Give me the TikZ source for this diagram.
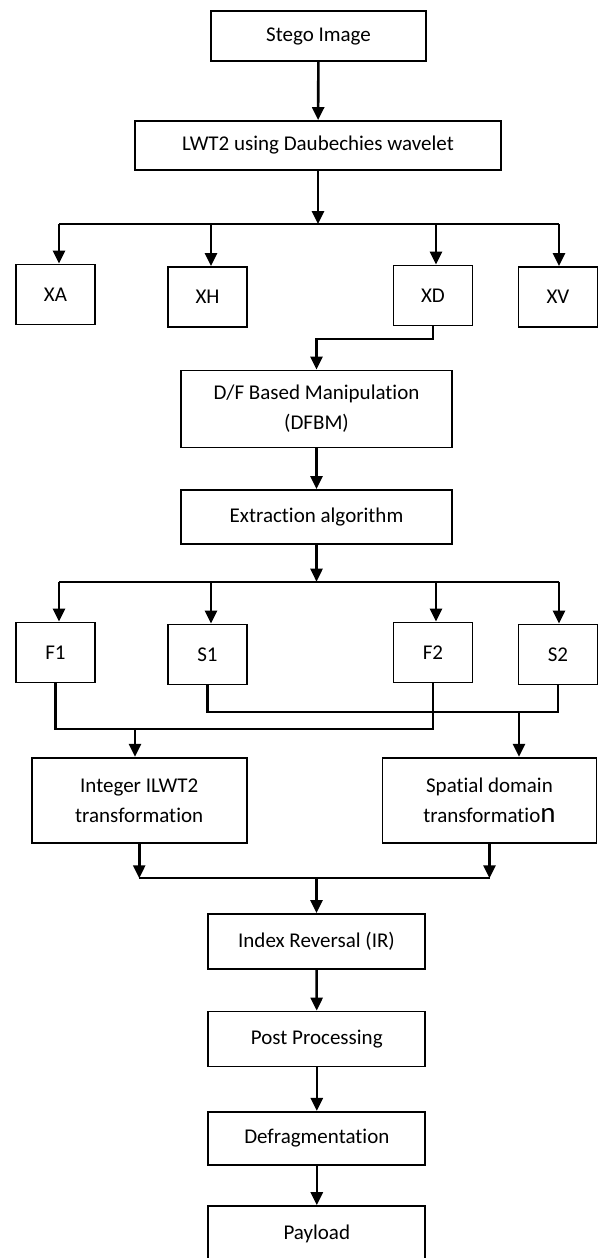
\documentclass[tikz,border=0pt]{standalone}
\usepackage{fontspec}
\setmainfont[Ligatures=NoCommon]{Carlito}
\usepackage{tikz}
\usetikzlibrary{arrows.meta}
\usetikzlibrary{positioning}
\usetikzlibrary{calc}
\tikzstyle{block}=[draw,line width=1.8pt,inner sep=0pt,align=center,font=\fontsize{21}{30}\selectfont]
\tikzstyle{leaf}=[block,minimum width=79pt,minimum height=60pt]
\tikzstyle{stage}=[block,minimum width=217pt,minimum height=55pt]
\tikzstyle{flow}=[line width=2.6pt,-{Triangle[width=12pt,length=13pt]}]
\tikzstyle{link}=[line width=2.2pt]

\begin{document}
\begin{tikzpicture}[x=1pt,y=-1pt]
\useasboundingbox (0,0) rectangle (597,1258);

\node [block,minimum width=215pt,minimum height=50pt] (stego) at (318.5,36) {Stego Image};
\node [block,minimum width=366pt,minimum height=49pt] (lwt) at (318,145.5) {LWT2 using Daubechies wavelet};

% first split
\coordinate (fork1) at (318,224);
\coordinate (fork1a) at (59,224);
\coordinate (fork1b) at (211,224);
\coordinate (fork1c) at (436,224);
\coordinate (fork1d) at (559,224);
\node [leaf] (xa) at (55.5,294.5) {XA};
\node [leaf] (xh) at (207.5,297) {XH};
\node [leaf] (xd) at (433,295.5) {XD};
\node [leaf] (xv) at (558,297) {XV};

\draw [flow] (stego) -- (lwt);
\draw [flow] (lwt) -- (fork1);
\draw [link] (fork1a) -- (fork1d);
\draw [flow] (fork1a) -- (fork1a |- xa.north);
\draw [flow] (fork1b) -- (fork1b |- xh.north);
\draw [flow] (fork1c) -- (fork1c |- xd.north);
\draw [flow] (fork1d) -- (fork1d |- xv.north);

\node [block,minimum width=271pt,minimum height=77pt] (dfbm) at (316.5,409) {D/F Based Manipulation\\(DFBM)};
\node [block,minimum width=271pt,minimum height=54pt] (extract) at (316.5,517) {Extraction algorithm};
\coordinate (bend) at (316.5,339);
\draw [flow] (xd.south) |- (bend) -- (dfbm.north);
\draw [flow] (dfbm) -- (extract);

% second split
\coordinate (fork2) at (316.5,581.7);
\coordinate (fork2a) at (59,581.7);
\coordinate (fork2b) at (211,581.7);
\coordinate (fork2c) at (436,581.7);
\coordinate (fork2d) at (559,581.7);
\node [leaf] (f1) at (55.5,652.5) {F1};
\node [leaf] (s1) at (207.5,654.5) {S1};
\node [leaf] (f2) at (433,652.5) {F2};
\node [leaf] (s2) at (558,654.5) {S2};

\draw [flow] (extract) -- (fork2);
\draw [link] (fork2a) -- (fork2d);
\draw [flow] (fork2a) -- (fork2a |- f1.north);
\draw [flow] (fork2b) -- (fork2b |- s1.north);
\draw [flow] (fork2c) -- (fork2c |- f2.north);
\draw [flow] (fork2d) -- (fork2d |- s2.north);

\node [block,minimum width=215pt,minimum height=85pt] (ilwt) at (139.2,800.3) {Integer ILWT2\\transformation};
\node [block,minimum width=214pt,minimum height=85pt] (spatial) at (489.5,800.3) {Spatial domain\\transformatio{\fontsize{29}{30}\selectfont n}};

\coordinate (jointF) at (135,729);
\coordinate (jointS) at (519,712);
\draw [link] (s1.south) |- (jointS) -| (s2.south);
\draw [link] (f1.south) |- (jointF) -| (f2.south);
\draw [flow] (jointF) -- (jointF |- ilwt.north);
\draw [flow] (jointS) -- (jointS |- spatial.north);

% merge
\coordinate (mergeL) at (139.2,878.3);
\coordinate (mergeR) at (490,878.3);
\coordinate (merge) at (316.5,878.3);
\draw [flow] (ilwt.south) -- (mergeL);
\draw [flow] (spatial.south) -- (spatial.south |- mergeL);
\draw [link] (mergeL) -- (mergeR);

\node [stage] (ir) at (316.5,941.5) {Index Reversal (IR)};
\node [stage] (post) at (316.8,1039) {Post Processing};
\node [stage,minimum height=53pt] (defrag) at (316.8,1138.3) {Defragmentation};
\node [stage,minimum height=56pt] (payload) at (316.8,1234) {Payload};

\draw [flow] (merge) -- (merge |- ir.north);
\draw [flow] (ir) -- (post);
\draw [flow] (post) -- (defrag);
\draw [flow] (defrag) -- (payload);

\end{tikzpicture}
\end{document}
